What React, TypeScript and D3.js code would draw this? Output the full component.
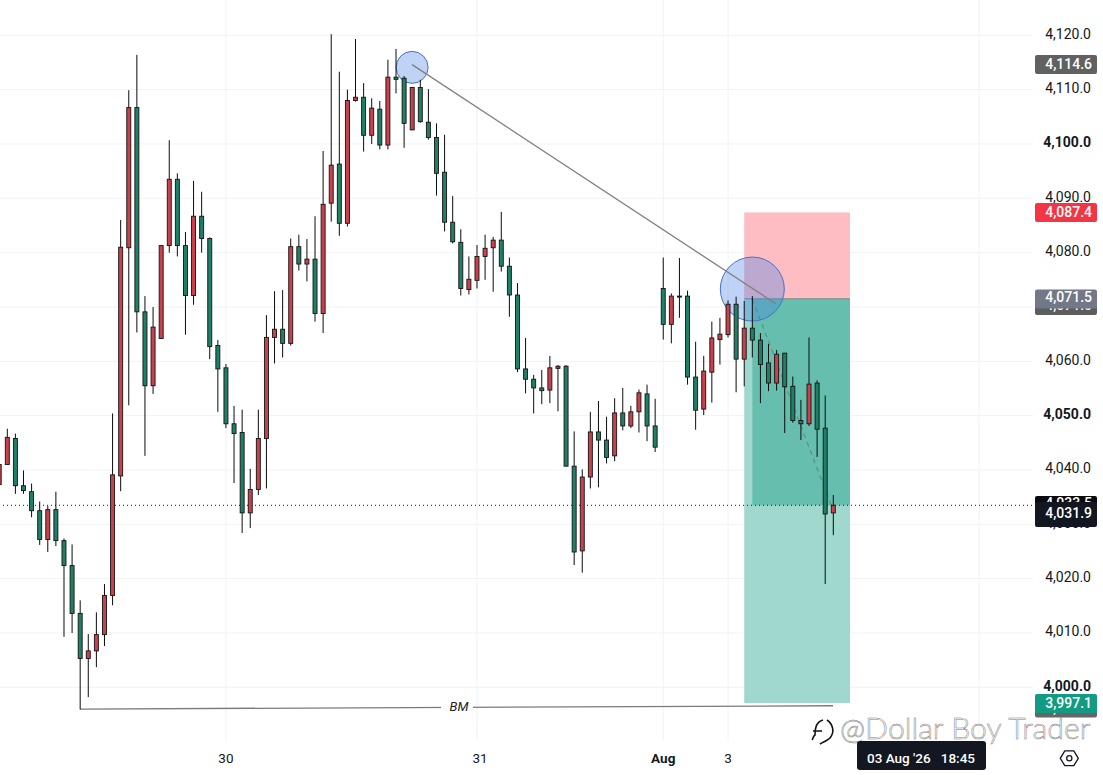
import { useEffect, useRef } from "react";
import * as d3 from "d3";

const WIDTH = 1103;
const HEIGHT = 775;

// candles, oldest first, one row of ten per line
const opens = [
  4037.3, 4041.0, 4045.8, 4037.1, 4036.0, 4032.5, 4027.2, 4032.7, 4027.0, 4022.4,
  4013.6, 4005.3, 4006.7, 4009.7, 4016.9, 4038.9, 4080.9, 4106.7, 4069.1, 4055.5,
  4064.2, 4081.3, 4093.5, 4081.3, 4072.1, 4086.7, 4082.6, 4062.9, 4058.8, 4048.5,
  4046.9, 4032.1, 4036.4, 4045.8, 4064.4, 4065.9, 4063.3, 4081.1, 4077.9, 4078.8,
  4068.8, 4089.1, 4096.3, 4085.4, 4108.0, 4108.6, 4101.6, 4106.4, 4099.8, 4112.3,
  4112.1, 4102.6, 4110.4, 4104.0, 4101.2, 4094.8, 4085.6, 4081.9, 4073.2, 4074.9,
  4079.3, 4080.9, 4082.3, 4077.5, 4072.2, 4058.6, 4056.7, 4055.1, 4054.7, 4058.7,
  4059.1, 4040.7, 4025.1, 4038.7, 4047.0, 4045.5, 4042.6, 4050.5, 4048.1, 4050.7,
  4054.0, 4048.1, 4073.4, 4066.8, 4072.0, 4072.0, 4057.1, 4051.2, 4058.0, 4064.0,
  4064.9, 4070.5, 4060.4, 4066.1, 4063.9, 4059.7, 4056.0, 4061.5, 4055.4, 4049.1,
  4048.5, 4056.0, 4047.7, 4032.1,
];
const highs = [
  4042.0, 4047.6, 4046.7, 4039.9, 4037.5, 4034.2, 4033.4, 4036.0, 4027.4, 4026.3,
  4016.0, 4009.8, 4013.8, 4019.0, 4050.4, 4086.0, 4109.9, 4116.4, 4072.0, 4070.0,
  4081.3, 4100.7, 4094.6, 4083.8, 4093.2, 4091.2, 4082.8, 4063.9, 4059.5, 4051.8,
  4051.1, 4040.2, 4051.1, 4068.5, 4072.9, 4073.1, 4082.6, 4083.3, 4082.5, 4086.7,
  4098.7, 4120.2, 4113.3, 4110.0, 4119.3, 4111.2, 4108.4, 4107.9, 4115.5, 4117.5,
  4112.5, 4110.5, 4111.8, 4110.1, 4103.8, 4101.7, 4090.4, 4084.3, 4079.3, 4081.4,
  4083.3, 4082.9, 4087.5, 4079.1, 4074.4, 4064.3, 4057.5, 4058.4, 4061.0, 4059.3,
  4059.3, 4047.1, 4040.1, 4050.7, 4052.7, 4049.8, 4053.2, 4055.1, 4051.8, 4054.8,
  4055.7, 4053.1, 4079.1, 4072.5, 4079.0, 4073.0, 4063.6, 4061.0, 4067.3, 4068.0,
  4071.2, 4071.9, 4071.1, 4072.0, 4065.2, 4063.2, 4062.1, 4061.5, 4057.2, 4052.9,
  4064.4, 4056.5, 4053.7, 4035.4,
];
const lows = [
  4037.0, 4041.0, 4035.6, 4035.6, 4031.3, 4026.2, 4024.9, 4026.0, 4009.3, 4010.0,
  3995.9, 3998.2, 4003.7, 4007.6, 4015.1, 4036.1, 4051.9, 4065.3, 4042.6, 4054.0,
  4064.2, 4080.0, 4079.3, 4064.9, 4070.4, 4080.0, 4060.4, 4050.7, 4047.7, 4037.6,
  4028.4, 4029.3, 4035.4, 4036.6, 4059.6, 4060.7, 4062.9, 4076.7, 4074.7, 4067.3,
  4065.2, 4085.7, 4083.1, 4084.8, 4107.8, 4098.6, 4100.0, 4099.0, 4099.0, 4109.3,
  4099.3, 4102.5, 4103.9, 4100.8, 4090.5, 4083.9, 4081.7, 4072.1, 4072.3, 4073.4,
  4075.0, 4072.8, 4076.5, 4068.2, 4058.0, 4054.1, 4050.4, 4052.1, 4052.3, 4050.8,
  4040.7, 4022.5, 4021.1, 4036.6, 4036.8, 4041.2, 4041.6, 4047.3, 4047.7, 4046.9,
  4045.3, 4043.3, 4064.0, 4063.3, 4068.0, 4055.7, 4047.4, 4050.1, 4052.4, 4059.4,
  4064.4, 4054.3, 4055.4, 4060.7, 4052.3, 4054.5, 4054.6, 4046.8, 4048.7, 4045.5,
  4048.1, 4042.4, 4019.0, 4028.0,
];
const closes = [
  4041.0, 4046.0, 4037.1, 4036.2, 4032.5, 4027.2, 4032.7, 4027.0, 4022.4, 4013.6,
  4005.3, 4006.7, 4009.7, 4016.9, 4039.1, 4081.0, 4106.7, 4069.1, 4055.5, 4066.3,
  4081.3, 4093.5, 4081.3, 4072.1, 4086.7, 4082.6, 4062.7, 4058.6, 4048.5, 4046.7,
  4032.1, 4036.4, 4045.8, 4064.4, 4065.9, 4063.3, 4081.1, 4077.9, 4078.8, 4068.8,
  4088.9, 4096.1, 4085.4, 4108.0, 4108.6, 4101.6, 4106.6, 4099.8, 4112.3, 4111.9,
  4103.8, 4110.4, 4104.1, 4101.2, 4094.6, 4085.6, 4082.0, 4073.4, 4075.1, 4079.3,
  4080.8, 4082.3, 4077.5, 4072.2, 4058.6, 4056.7, 4055.1, 4054.6, 4058.8, 4059.1,
  4040.7, 4024.9, 4038.7, 4047.0, 4045.5, 4042.3, 4050.5, 4048.1, 4050.7, 4054.2,
  4048.1, 4044.2, 4066.8, 4072.0, 4071.9, 4057.1, 4051.0, 4058.2, 4064.3, 4065.0,
  4070.5, 4060.4, 4066.1, 4063.9, 4059.4, 4056.0, 4061.3, 4055.3, 4049.1, 4048.5,
  4055.8, 4047.5, 4031.9, 4033.5,
];

const priceTicks = [4120, 4110, 4100, 4090, 4080, 4070, 4060, 4050, 4040, 4030, 4020, 4010, 4000];
const boldPrices = [4100, 4050, 4000];
const timeGridBars = [28, 59, 82, 90, 121];
const timeLabels = ["30", "31", "Aug", "3"];

const lastPrice = 4033.5;
const stopPrice = 4087.4;
const entryPrice = 4071.5;
const targetPrice = 3997.1;

const AXIS_FONT = "Roboto, 'Open Sans', sans-serif";

export default function App() {
  const ref = useRef<SVGSVGElement>(null);

  useEffect(() => {
    const svg = d3.select(ref.current!);
    svg.selectAll("*").remove();

    const x = d3.scaleLinear().domain([0, 103]).range([-0.8, 833.3]);
    const y = d3.scaleLinear().domain([4000, 4120]).range([687.3, 35.3]);
    const fmt = d3.format(",.1f");
    const bars = d3.range(opens.length);

    // grid
    svg.append("g")
      .selectAll("line")
      .data(priceTicks)
      .join("line")
      .attr("x1", 0)
      .attr("x2", 1033)
      .attr("y1", (d) => y(d))
      .attr("y2", (d) => y(d))
      .attr("stroke", "#f0f2f5")
      .attr("stroke-width", 1);
    svg.append("g")
      .selectAll("line")
      .data(timeGridBars)
      .join("line")
      .attr("x1", (d) => x(d))
      .attr("x2", (d) => x(d))
      .attr("y1", 0)
      .attr("y2", 741)
      .attr("stroke", "#f0f2f5")
      .attr("stroke-width", 1);

    // long position box
    const boxLeft = x(92);
    const boxRight = 850;
    const fillStart = x(93);
    svg.append("rect")
      .attr("x", boxLeft)
      .attr("y", y(stopPrice))
      .attr("width", boxRight - boxLeft)
      .attr("height", y(entryPrice) - y(stopPrice))
      .attr("fill", "#fdbdc3");
    svg.append("rect")
      .attr("x", boxLeft)
      .attr("y", y(entryPrice))
      .attr("width", boxRight - boxLeft)
      .attr("height", y(targetPrice) - y(entryPrice))
      .attr("fill", "#a0d8cd");
    svg.append("rect")
      .attr("x", fillStart)
      .attr("y", y(entryPrice))
      .attr("width", boxRight - fillStart)
      .attr("height", y(lastPrice) - y(entryPrice))
      .attr("fill", "#66bfae");
    svg.append("line")
      .attr("x1", boxLeft)
      .attr("x2", boxRight)
      .attr("y1", y(entryPrice))
      .attr("y2", y(entryPrice))
      .attr("stroke", "#7b8684")
      .attr("stroke-width", 1);
    svg.append("line")
      .attr("x1", fillStart)
      .attr("x2", x(102) + 6)
      .attr("y1", y(entryPrice))
      .attr("y2", y(lastPrice))
      .attr("stroke", "#5d8f88")
      .attr("stroke-width", 1.2)
      .attr("stroke-dasharray", "5 4");

    // circles
    svg.append("circle")
      .attr("cx", x(50) + 8)
      .attr("cy", y(4114.1))
      .attr("r", 16)
      .attr("fill", "rgba(70,130,230,0.35)")
      .attr("stroke", "#4a70c4")
      .attr("stroke-width", 1);
    svg.append("circle")
      .attr("cx", x(93))
      .attr("cy", y(4073.3))
      .attr("r", 32)
      .attr("fill", "rgba(70,130,230,0.35)")
      .attr("stroke", "#4a70c4")
      .attr("stroke-width", 1);

    // trend line between the circles
    svg.append("line")
      .attr("x1", x(50) + 8)
      .attr("y1", y(4114.6))
      .attr("x2", 775.7)
      .attr("y2", y(4070.6))
      .attr("stroke", "#7f7f7f")
      .attr("stroke-width", 1.3);

    // BM line
    svg.append("line")
      .attr("x1", x(10))
      .attr("y1", y(3996.0))
      .attr("x2", 833)
      .attr("y2", y(3996.6))
      .attr("stroke", "#7b7b7b")
      .attr("stroke-width", 1.3);
    svg.append("rect")
      .attr("x", 441)
      .attr("y", 698)
      .attr("width", 32)
      .attr("height", 16)
      .attr("fill", "#fff");
    svg.append("text")
      .attr("x", 459)
      .attr("y", 710.5)
      .attr("text-anchor", "middle")
      .attr("font-family", AXIS_FONT)
      .attr("font-style", "italic")
      .attr("font-size", 13)
      .attr("fill", "#222")
      .text("BM");

    // last price dotted line
    svg.append("line")
      .attr("x1", 3)
      .attr("x2", 1033)
      .attr("y1", y(lastPrice))
      .attr("y2", y(lastPrice))
      .attr("stroke", "#131722")
      .attr("stroke-width", 1)
      .attr("stroke-dasharray", "1 3");

    // candles
    const candle = svg.append("g");
    candle
      .selectAll("line")
      .data(bars)
      .join("line")
      .attr("x1", (i) => x(i))
      .attr("x2", (i) => x(i))
      .attr("y1", (i) => y(highs[i]))
      .attr("y2", (i) => y(lows[i]))
      .attr("stroke", "#0c0c0c")
      .attr("stroke-width", 1);
    candle
      .selectAll("rect")
      .data(bars)
      .join("rect")
      .attr("x", (i) => x(i) - 2)
      .attr("y", (i) => y(Math.max(opens[i], closes[i])))
      .attr("width", 4)
      .attr("height", (i) => Math.max(1, Math.abs(y(opens[i]) - y(closes[i]))))
      .attr("fill", (i) => (closes[i] >= opens[i] ? "#c8414c" : "#1f8068"))
      .attr("stroke", "#171313")
      .attr("stroke-width", 0.9);

    // price axis labels
    svg.append("g")
      .selectAll("text")
      .data(priceTicks)
      .join("text")
      .attr("x", 1091)
      .attr("y", (d) => y(d) - 1.5)
      .attr("dy", "0.35em")
      .attr("text-anchor", "end")
      .attr("font-family", AXIS_FONT)
      .attr("font-size", 14)
      .attr("font-weight", (d) => (boldPrices.includes(d) ? 700 : 400))
      .attr("fill", "#131722")
      .text((d) => fmt(d));

    // price badges, later ones cover earlier ones
    const badge = (top: number, h: number, fill: string, label: string, textY: number) => {
      svg.append("rect")
        .attr("x", 1035)
        .attr("y", top)
        .attr("width", 62)
        .attr("height", h)
        .attr("rx", 2)
        .attr("fill", fill);
      svg.append("text")
        .attr("x", 1092)
        .attr("y", textY)
        .attr("dy", "0.35em")
        .attr("text-anchor", "end")
        .attr("font-family", AXIS_FONT)
        .attr("font-size", 14)
        .attr("font-weight", 500)
        .attr("fill", "#fff")
        .text(label);
    };
    badge(55, 19, "#616161", fmt(4114.6), 64);
    badge(203, 19, "#f23645", fmt(stopPrice), 212);
    badge(296, 19, "#5d5d5d", fmt(4071.0), 305);
    badge(289.5, 19, "#737889", fmt(entryPrice), 297);
    badge(496, 20, "#0b0b0f", fmt(lastPrice), 503);
    badge(502, 25, "#131722", fmt(4031.9), 513);
    badge(698.5, 19, "#666666", fmt(3996.6), 708);
    badge(694, 19, "#129a82", fmt(targetPrice), 703);

    // time axis labels
    svg.append("g")
      .selectAll("text")
      .data(timeLabels)
      .join("text")
      .attr("x", (_, i) => x(timeGridBars[i]) + (timeLabels[i] === "31" ? 3 : 0))
      .attr("y", 758)
      .attr("dy", "0.35em")
      .attr("text-anchor", "middle")
      .attr("font-family", AXIS_FONT)
      .attr("font-size", 13.5)
      .attr("font-weight", (d) => (d === "Aug" ? 700 : 400))
      .attr("fill", "#131722")
      .text((d) => d);

    // watermark
    svg.append("text")
      .attr("x", 840)
      .attr("y", 739)
      .attr("font-family", "Lato, sans-serif")
      .attr("font-size", 30.3)
      .attr("font-weight", 300)
      .attr("fill", "#ffffff")
      .attr("stroke", "#7c7c7c")
      .attr("stroke-width", 0.5)
      .text("@Dollar Boy Trader");
    svg.append("path")
      .attr("d", "M823 720 C816 722 815 728 815 735 C813 736 813 739 812 740 M813 731 L822 731 M827 720 C833 724 835 732 830 738 C827 741 823 742 820 744")
      .attr("fill", "none")
      .attr("stroke", "#111")
      .attr("stroke-width", 1.6);

    // crosshair date badge
    svg.append("rect")
      .attr("x", 857)
      .attr("y", 741)
      .attr("width", 129)
      .attr("height", 29)
      .attr("rx", 3)
      .attr("fill", "#131722");
    svg.append("text")
      .attr("x", 867)
      .attr("y", 758)
      .attr("dy", "0.35em")
      .attr("font-family", AXIS_FONT)
      .attr("font-size", 13.5)
      .attr("font-weight", 500)
      .attr("fill", "#fff")
      .style("white-space", "pre")
      .text("03 Aug '26   18:45");

    // settings icon
    const hexagon = d3.range(6).map((k) => {
      const a = (k * Math.PI) / 3;
      return [1069.3 + 9 * Math.cos(a), 758.3 + 8.5 * Math.sin(a)] as [number, number];
    });
    svg.append("path")
      .attr("d", d3.line().curve(d3.curveLinearClosed)(hexagon)!)
      .attr("fill", "none")
      .attr("stroke", "#131722")
      .attr("stroke-width", 1.3)
      .attr("stroke-linejoin", "round");
    svg.append("circle")
      .attr("cx", 1069.3)
      .attr("cy", 758.3)
      .attr("r", 2.6)
      .attr("fill", "none")
      .attr("stroke", "#131722")
      .attr("stroke-width", 1.3);
  }, []);

  return (
    <svg
      ref={ref}
      width={WIDTH}
      height={HEIGHT}
      style={{ position: "absolute", left: 0, top: 0, display: "block", background: "#fff" }}
    />
  );
}
